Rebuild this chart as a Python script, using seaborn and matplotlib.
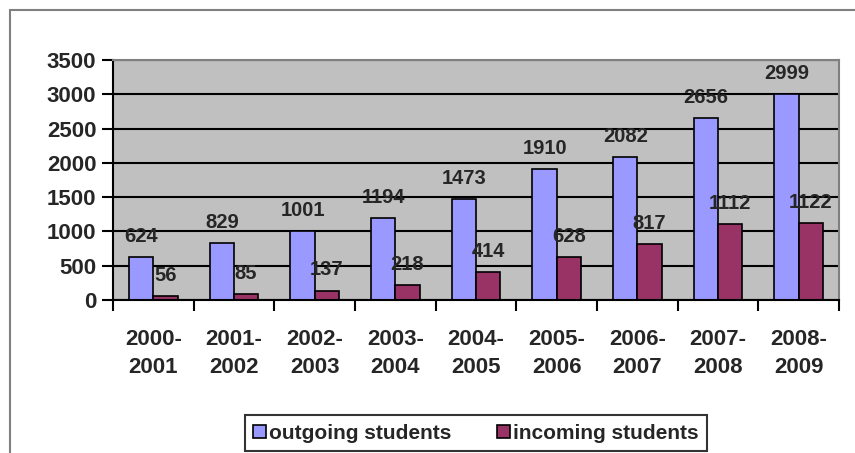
import pandas as pd
import matplotlib.pyplot as plt
import seaborn as sns
from matplotlib.patches import Rectangle

# data
years = ['2000-\n2001', '2001-\n2002', '2002-\n2003', '2003-\n2004', '2004-\n2005',
         '2005-\n2006', '2006-\n2007', '2007-\n2008', '2008-\n2009']
outgoing = [624, 829, 1001, 1194, 1473, 1910, 2082, 2656, 2999]
incoming = [56, 85, 137, 218, 414, 628, 817, 1112, 1122]
series = ['outgoing students', 'incoming students']
colors = ['#9999FF', '#993366']

df = pd.DataFrame({
    'year': years * 2,
    'value': outgoing + incoming,
    'series': [series[0]] * len(years) + [series[1]] * len(years),
})

sns.set_style('white')
plt.rcParams['font.family'] = ['Liberation Sans', 'DejaVu Sans']
plt.rcParams['font.weight'] = 'bold'

fig = plt.figure(figsize=(8.55, 4.53), dpi=100)
ax = fig.add_axes([113 / 855, 1 - 300 / 453, 726 / 855, 240 / 453])

sns.barplot(data=df, x='year', y='value', hue='series', palette=colors, saturation=1,
            width=0.6, edgecolor='black', linewidth=1.2, ax=ax, legend=True)

ax.set_facecolor('#C0C0C0')
ax.set_ylim(0, 3500)
ax.set_xlim(-0.5, len(years) - 0.5)
ax.set_yticks(range(0, 3501, 500))
ax.yaxis.grid(True, color='black', linewidth=1.5)
ax.set_axisbelow(True)
ax.set_xlabel('')
ax.set_ylabel('')

for s in ['left', 'bottom']:
    ax.spines[s].set_color('black')
    ax.spines[s].set_linewidth(1.5)
for s in ['top', 'right']:
    ax.spines[s].set_color('#808080')
    ax.spines[s].set_linewidth(1.5)

ax.tick_params(axis='y', length=8, width=1.5, color='black', labelsize=16, pad=4, left=True)
ax.tick_params(axis='x', which='major', length=0, labelsize=16, pad=21)
ax.set_xticks([i - 0.5 for i in range(len(years) + 1)], minor=True)
ax.tick_params(axis='x', which='minor', length=8, width=1.5, color='black', bottom=True)
for lbl in ax.get_xticklabels() + ax.get_yticklabels():
    lbl.set_fontweight('bold')
for lbl in ax.get_xticklabels():
    lbl.set_linespacing(1.4)

for cont in ax.containers:
    ax.bar_label(cont, padding=8, fontsize=14.5, fontweight='bold')

leg = ax.legend(loc='upper center', bbox_to_anchor=(476 / 855, 1 - 405 / 453),
                bbox_transform=fig.transFigure, ncol=2, frameon=True, fancybox=False,
                edgecolor='black', fontsize=15, handlelength=0.6, handleheight=0.6,
                handletextpad=0.15, columnspacing=2.2, borderpad=0.4)
leg.get_frame().set_linewidth(1.5)
for t in leg.get_texts():
    t.set_fontweight('bold')

# outer chart frame (only left and top edges visible)
fig.add_artist(Rectangle((10 / 855, -0.2), 1.5, 1.2 - 10 / 453, transform=fig.transFigure,
                         fill=False, edgecolor='#808080', linewidth=1.5))

fig.savefig('out.png', dpi=100)
